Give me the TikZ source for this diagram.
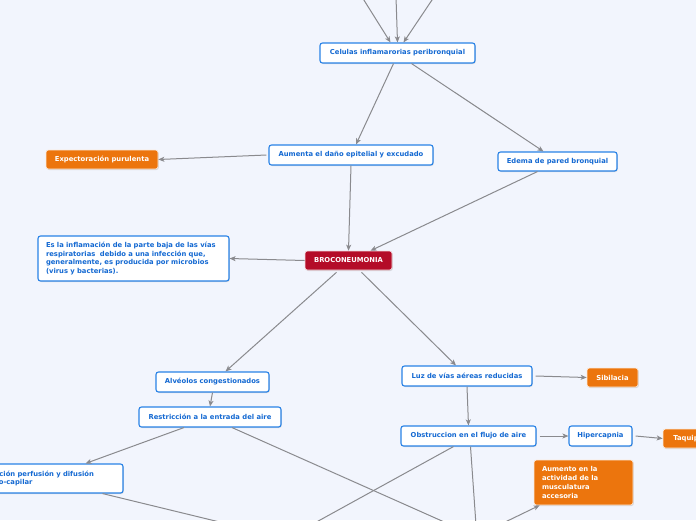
\documentclass[tikz,border=0pt]{standalone}
\usepackage{fontspec}
\setmainfont{DejaVu Sans}
\usetikzlibrary{arrows.meta,shadows}
\definecolor{bgc}{RGB}{242,245,253}
\definecolor{boxblue}{RGB}{40,130,230}
\definecolor{txtblue}{RGB}{20,105,210}
\definecolor{orng}{RGB}{236,117,13}
\definecolor{redc}{RGB}{180,12,40}
\definecolor{edgec}{RGB}{138,138,142}
\tikzset{
  base/.style={rounded corners=2.5pt, inner sep=0pt, minimum height=20pt,
    font=\fontsize{6.8}{8.7}\selectfont\bfseries,
    drop shadow={shadow xshift=0.8pt, shadow yshift=-1pt, opacity=0.25}},
  bluebox/.style={base, draw=boxblue, line width=1.1pt, fill=white, text=txtblue},
  orbox/.style={base, draw=white!85!orng, line width=0.6pt, fill=orng, text=white},
  redbox/.style={base, draw=white!85!redc, line width=0.6pt, fill=redc, text=white},
  conn/.style={draw=edgec, line width=1pt, -{Stealth[length=6pt,width=5pt,inset=1.5pt]}},
  connplain/.style={draw=edgec, line width=1pt},
}
\begin{document}
\begin{tikzpicture}[x=1pt,y=-1pt]
\fill[bgc] (0,0) rectangle (696,520);
\useasboundingbox (0,0) rectangle (696,520);
\clip (0,0) rectangle (696,520);

% nodes
\node[bluebox, minimum width=155pt] (cel) at (397.5,53) {Celulas inflamarorias peribronquial};
\node[bluebox, minimum width=164pt] (aum) at (351,155) {Aumenta el daño epitelial y excudado};
\node[orbox, minimum width=112pt, minimum height=19pt] (exp) at (102,159.5) {Expectoración purulenta};
\node[bluebox, minimum width=119pt, minimum height=19pt] (ede) at (557.5,161.5) {Edema de pared bronquial};
\node[redbox, minimum width=87pt, minimum height=19pt] (bro) at (348.5,260.5) {BROCONEUMONIA};
\node[bluebox, text width=175pt, inner xsep=8pt, minimum height=45pt, align=left] (def) at (133.5,258.5)
  {Es la inflamación de la parte baja de las vías\\respiratorias\ \ debido a una infección que,\\generalmente, es producida por microbios\\(virus y bacterias).};
\node[bluebox, minimum width=113pt] (alv) at (212.5,382) {Alvéolos congestionados};
\node[bluebox, minimum width=142pt] (res) at (210,417) {Restricción a la entrada del aire};
\node[bluebox, text width=139pt, inner xsep=8pt, minimum height=29pt, align=left] (alt) at (45.5,478.5)
  {Alteración perfusión y difusión\\alveolo-capilar};
\node[bluebox, minimum width=130pt] (luz) at (467,376) {Luz de vías aéreas reducidas};
\node[orbox, minimum width=51pt, minimum height=19pt] (sib) at (612.5,377.5) {Sibilacia};
\node[bluebox, minimum width=135pt] (obs) at (468.5,436) {Obstruccion en el flujo de aire};
\node[bluebox, minimum width=63pt] (hip) at (600.5,436) {Hipercapnia};
\node[orbox, minimum width=60pt, minimum height=19pt] (taq) at (693,438.5) {Taquipnea};
\node[orbox, text width=83pt, inner xsep=8pt, minimum height=45pt, align=left] (aca) at (583.5,482.5)
  {Aumento en la\\actividad de la\\musculatura\\accesoria};

% off-canvas endpoints
\coordinate (t1) at (362,-3);
\coordinate (t2) at (396,-3);
\coordinate (t3) at (434,-3);
\coordinate (b1) at (451,525);
\coordinate (b2) at (232,525);
\coordinate (b3) at (311,525);
\coordinate (b4) at (476,525);
\coordinate (b5) at (499,525);

% connectors
\draw[conn] (t1) -- ([xshift=-7pt]cel.north);
\draw[conn] (t2) -- (cel.north);
\draw[conn] (t3) -- ([xshift=6pt]cel.north);
\draw[conn] ([xshift=-4pt]cel.south) -- ([xshift=5pt]aum.north);
\draw[conn] ([xshift=14pt]cel.south) -- ([xshift=-14pt]ede.north);
\draw[conn] ([xshift=-2pt]aum.west) -- (exp.east);
\draw[conn] (aum.south) -- (bro.north);
\draw[conn] ([xshift=-20pt]ede.south) -- ([xshift=22pt]bro.north);
\draw[conn] (bro.west) -- (def.east);
\draw[conn] ([xshift=-12pt,yshift=-2pt]bro.south) -- ([xshift=13pt]alv.north);
\draw[conn] ([xshift=13pt,yshift=-2pt]bro.south) -- ([xshift=-11pt]luz.north);
\draw[conn] (alv.south) -- (res.north);
\draw[conn] ([xshift=-26pt]res.south) -- ([xshift=40pt]alt.north);
\draw[connplain] ([xshift=22pt]res.south) -- (b1);
\draw[connplain] ([xshift=57pt]alt.south) -- (b2);
\draw[connplain] ([xshift=-15pt]obs.south) -- (b3);
\draw[connplain] ([xshift=2pt]obs.south) -- (b4);
\draw[conn] (b5) -- ([xshift=6pt]aca.south west);
\draw[conn] ([xshift=3pt]luz.east) -- (sib.west);
\draw[conn] (luz.south) -- (obs.north);
\draw[conn] ([xshift=3pt]obs.east) -- (hip.west);
\draw[conn] ([xshift=3pt]hip.east) -- (taq.west);
\end{tikzpicture}
\end{document}
